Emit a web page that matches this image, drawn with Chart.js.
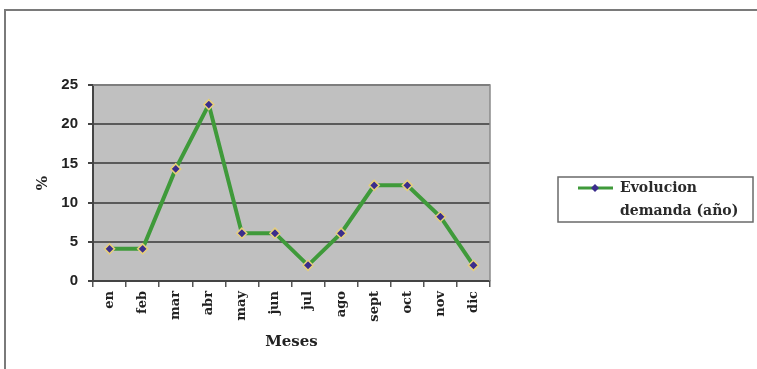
<!DOCTYPE html>
<html>
<head>
<meta charset="utf-8">
<script src="https://cdn.jsdelivr.net/npm/chart.js@4"></script>
<style>
    html, body { margin: 0; padding: 0; background: #fff; }
    #wrap { width: 757px; height: 369px; position: relative; }
</style>
</head>
<body>
<div id="wrap"><canvas id="chart" width="757" height="369"></canvas></div>
<script>
const months = ['en', 'feb', 'mar', 'abr', 'may', 'jun', 'jul', 'ago', 'sept', 'oct', 'nov', 'dic'];
const demanda = [4.1, 4.1, 14.3, 22.5, 6.1, 6.1, 2.0, 6.1, 12.2, 12.2, 8.2, 2.0];
const seriesName = ['Evolucion', 'demanda (año)'];
const yTicks = [0, 5, 10, 15, 20, 25];

const serif = "'DejaVu Serif', serif";
const sans = "'Liberation Sans', Arial, sans-serif";

// frame around the whole chart and the grey plot background
const framePlugin = {
    id: 'frame',
    beforeDraw(chart) {
        const ctx = chart.ctx;
        const a = chart.chartArea;
        ctx.save();
        ctx.fillStyle = '#c0c0c0';
        ctx.fillRect(a.left, a.top, a.right - a.left, a.bottom - a.top);
        ctx.strokeStyle = '#7a7a7a';
        ctx.lineWidth = 2;
        ctx.beginPath();
        ctx.moveTo(5, 369);
        ctx.lineTo(5, 10);
        ctx.lineTo(757, 10);
        ctx.stroke();
        ctx.restore();
    },
    afterDatasetsDraw(chart) {
        const ctx = chart.ctx;
        const a = chart.chartArea;
        ctx.save();
        ctx.strokeStyle = '#8a8a8a';
        ctx.lineWidth = 1.5;
        ctx.beginPath();
        ctx.moveTo(a.left, a.top);
        ctx.lineTo(a.right, a.top);
        ctx.lineTo(a.right, a.bottom);
        ctx.stroke();
        ctx.restore();
    }
};

// legend box on the right, two lines of text
const legendPlugin = {
    id: 'boxLegend',
    afterDraw(chart) {
        const ctx = chart.ctx;
        const ds = chart.data.datasets[0];
        ctx.save();
        ctx.strokeStyle = '#6a6a6a';
        ctx.lineWidth = 1.5;
        ctx.strokeRect(558, 177, 195, 45);

        ctx.strokeStyle = ds.borderColor;
        ctx.lineWidth = 3;
        ctx.beginPath();
        ctx.moveTo(578, 188);
        ctx.lineTo(613, 188);
        ctx.stroke();
        ctx.fillStyle = ds.pointBackgroundColor;
        ctx.beginPath();
        ctx.moveTo(595, 184); ctx.lineTo(599, 188); ctx.lineTo(595, 192); ctx.lineTo(591, 188);
        ctx.closePath();
        ctx.fill();

        ctx.fillStyle = '#2a2a2a';
        ctx.font = 'bold 14px ' + serif;
        ctx.textBaseline = 'middle';
        ctx.textAlign = 'left';
        ctx.fillText(seriesName[0], 620, 188);
        ctx.fillText(seriesName[1], 620, 211);
        ctx.restore();
    }
};

const ctx = document.getElementById('chart').getContext('2d');
new Chart(ctx, {
    type: 'line',
    data: {
        labels: months,
        datasets: [{
            label: seriesName.join(' '),
            data: demanda,
            borderColor: '#3f9a3a',
            borderWidth: 4,
            tension: 0,
            pointStyle: 'rectRot',
            pointRadius: 5,
            pointBackgroundColor: '#3b2d8c',
            pointBorderColor: '#e6cf7a',
            pointBorderWidth: 1.5
        }]
    },
    options: {
        responsive: false,
        animation: false,
        layout: { padding: { left: 34, top: 85, right: 267, bottom: 18 } },
        plugins: {
            legend: { display: false },
            tooltip: { enabled: false }
        },
        scales: {
            x: {
                offset: true,
                afterFit: function (scale) { scale.height = 70; },
                grid: {
                    offset: true,
                    drawOnChartArea: false,
                    tickLength: 6,
                    tickColor: '#555',
                    lineWidth: 1.5
                },
                border: { color: '#444', width: 2 },
                ticks: {
                    minRotation: 90,
                    maxRotation: 90,
                    padding: 4,
                    color: '#222',
                    font: { family: serif, size: 13, weight: 'bold' }
                },
                title: {
                    display: true,
                    text: 'Meses',
                    color: '#222',
                    padding: 0,
                    font: { family: serif, size: 15, weight: 'bold' }
                }
            },
            y: {
                min: 0,
                max: 25,
                afterFit: function (scale) { scale.width = 59; },
                afterBuildTicks: function (scale) {
                    scale.ticks = yTicks.map(v => ({ value: v }));
                },
                grid: {
                    color: '#5a5a5a',
                    lineWidth: 2,
                    tickLength: 5,
                    tickColor: '#444'
                },
                border: { color: '#444', width: 2 },
                ticks: {
                    padding: 10,
                    color: '#222',
                    font: { family: sans, size: 15, weight: 'bold' }
                },
                title: {
                    display: true,
                    text: '%',
                    color: '#222',
                    padding: 0,
                    font: { family: serif, size: 15, weight: 'bold' }
                }
            }
        }
    },
    plugins: [framePlugin, legendPlugin]
});
</script>
</body>
</html>
